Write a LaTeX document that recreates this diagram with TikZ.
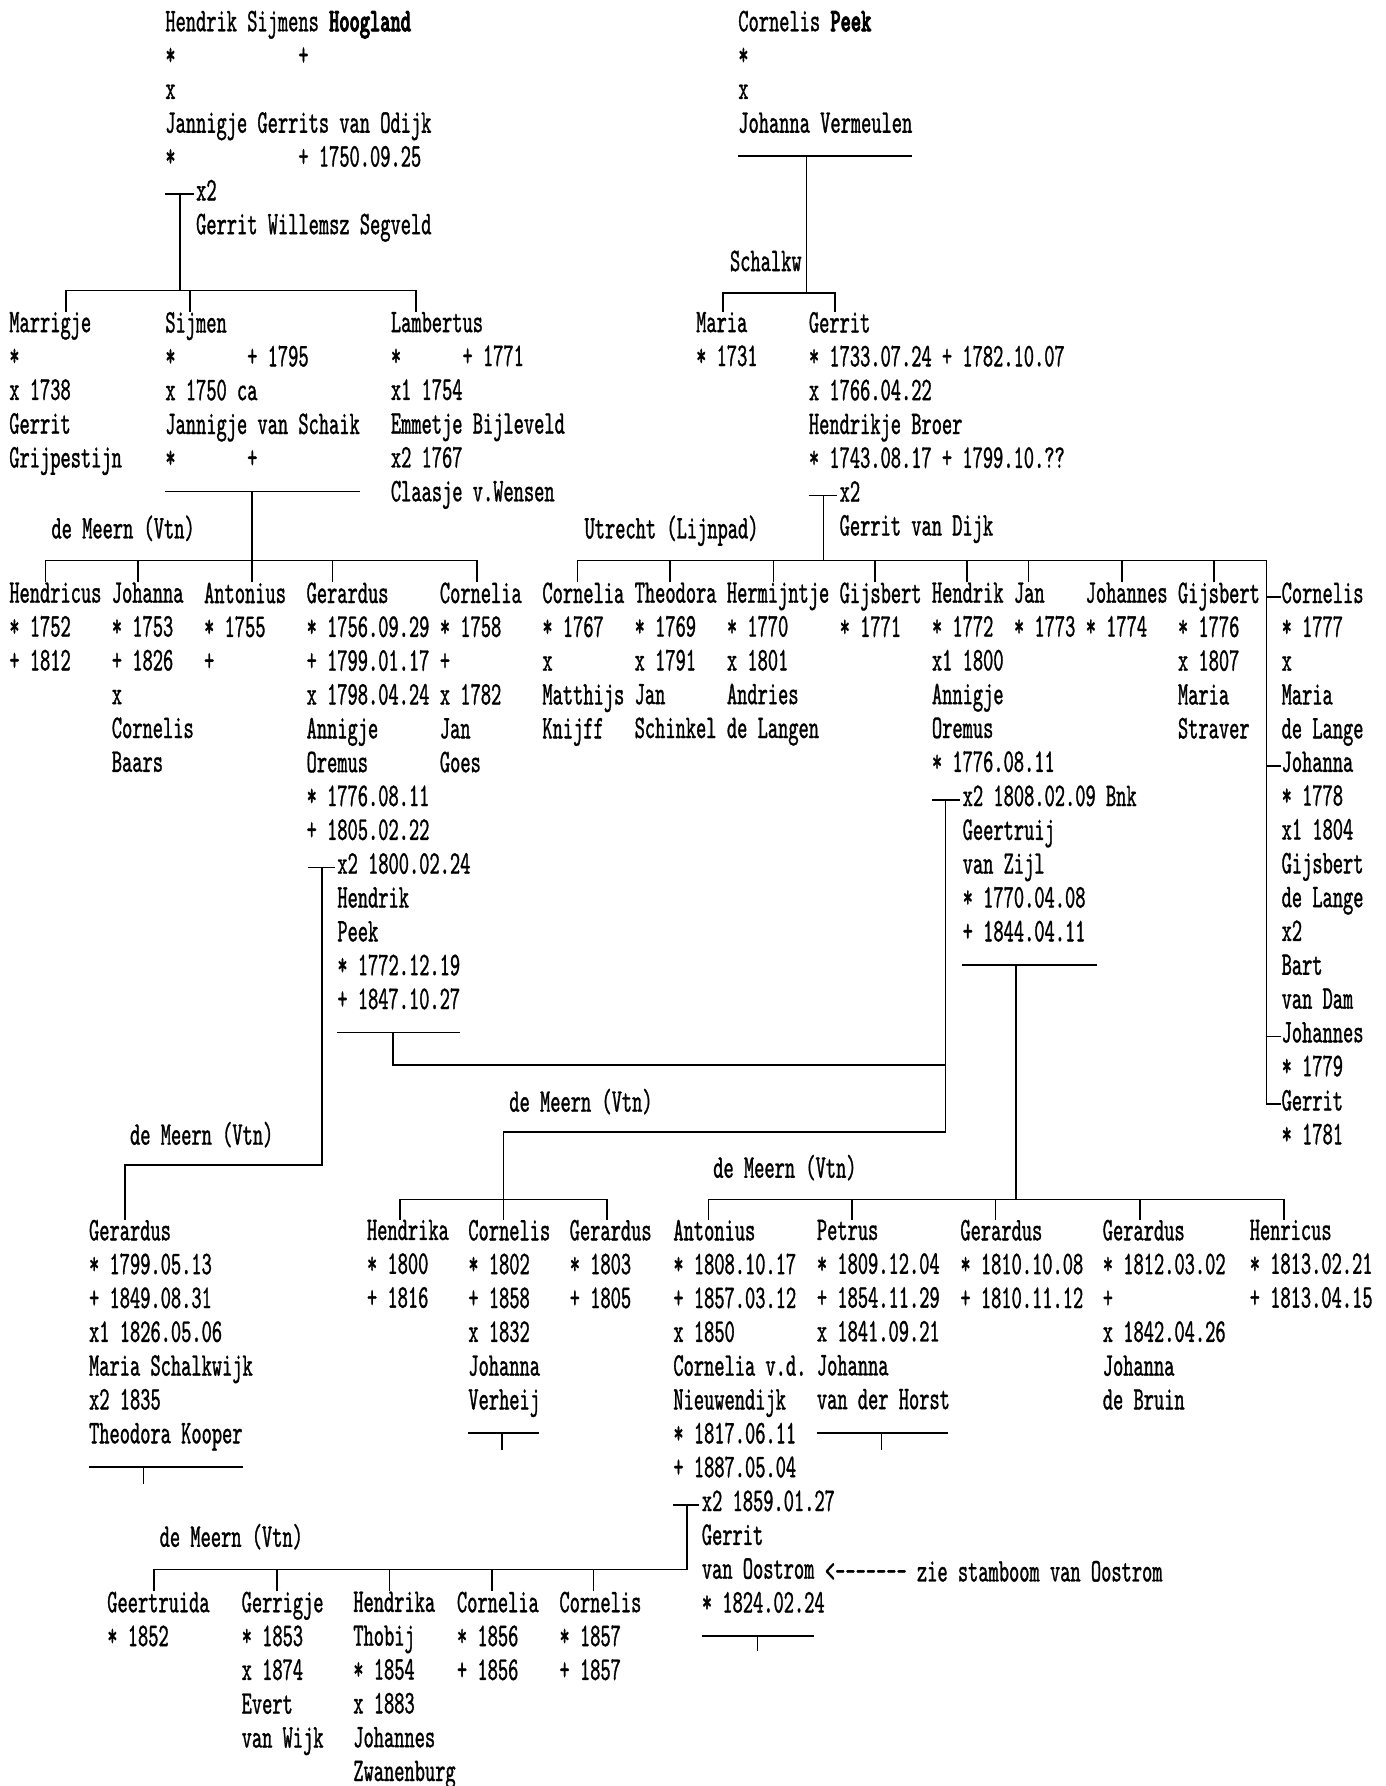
\documentclass[tikz,border=0pt]{standalone}
\usepackage{fontspec}
\setmonofont[FakeStretch=0.59,UprightFeatures={FakeBold=1},
  BoldFont=lmmonolt10-bold.otf,BoldFeatures={FakeBold=2.5}]{lmmono10-regular.otf}
\usepackage{tikz}
\newlength\chw
\newcommand\chart{\ttfamily\fontsize{29pt}{29.7pt}\selectfont\settowidth\chw{0}}
\newcommand\tabcol[2]{\makebox[#1\chw][l]{#2}}

\begin{document}
\begin{tikzpicture}[x=1pt, y=-1pt,
      pers/.style={anchor=north west, yshift=20.79pt, inner sep=0pt,
                   align=left, font=\chart,
                   execute at begin node=\strut, execute at end node=\strut},
      plc/.style={anchor=base west, inner sep=0pt, font=\chart},
      ln/.style={line width=1.5pt}
  ]
    \useasboundingbox (0,0) rectangle (1216,1568);
    % top couples
    \node[pers] (hoog) at (145,30) {Hendrik Sijmens \textbf{Hoogland}\\\tabcol{13}{*}+\\x\\Jannigje Gerrits van Odijk\\\tabcol{13}{*}+ 1750.09.25};
    \node[pers] (segv) at (172,178.5) {x2\\Gerrit Willemsz Segveld};
    \node[pers] (peek) at (648,30) {Cornelis \textbf{Peek}\\{}*\\x\\Johanna Vermeulen};
    \node[plc, anchor=base east] (schalkw) at (704,238) {Schalkw};
    % first generation
    \node[pers] (marrigje) at (8,294.5) {Marrigje\\{}*\\x 1738\\Gerrit\\Grijpestijn};
    \node[pers] (sijmen) at (145,294.5) {Sijmen\\\tabcol{8}{*}+ 1795\\x 1750 ca\\Jannigje van Schaik\\\tabcol{8}{*}+};
    \node[pers] (lambertus) at (343,294.5) {Lambertus\\\tabcol{7}{*}+ 1771\\x1 1754\\Emmetje Bijleveld\\x2 1767\\Claasje v.Wensen};
    \node[pers] (maria) at (611,294.5) {Maria\\{}* 1731};
    \node[pers] (gerrit) at (710,294.5) {Gerrit\\{}* 1733.07.24 + 1782.10.07\\x 1766.04.22\\Hendrikje Broer\\{}* 1743.08.17 + 1799.10.??};
    \node[pers] (dijk) at (737,443) {x2\\Gerrit van Dijk};
    \node[plc] (utrecht) at (513,472.7) {Utrecht (Lijnpad)};
    \node[plc] (meernA) at (45,472.7) {de Meern (Vtn)};
    % second generation
    \node[pers] (hendricus) at (8,532) {Hendricus\\{}* 1752\\+ 1812};
    \node[pers] (johanna) at (98,532) {Johanna\\{}* 1753\\+ 1826\\x\\Cornelis\\Baars};
    \node[pers] (antonius) at (179,532) {Antonius\\{}* 1755\\+};
    \node[pers] (gerardus) at (269,532) {Gerardus\\{}* 1756.09.29\\+ 1799.01.17\\x 1798.04.24\\Annigje\\Oremus\\{}* 1776.08.11\\+ 1805.02.22};
    \node[pers] (corneliaA) at (386,532) {Cornelia\\{}* 1758\\+\\x 1782\\Jan\\Goes};
    \node[pers] (corneliaB) at (476,532) {Cornelia\\{}* 1767\\x\\Matthijs\\Knijff};
    \node[pers] (theodora) at (557,532) {Theodora\\{}* 1769\\x 1791\\Jan\\Schinkel};
    \node[pers] (hermijntje) at (638,532) {Hermijntje\\{}* 1770\\x 1801\\Andries\\de Langen};
    \node[pers] (gijsbertA) at (737,532) {Gijsbert\\{}* 1771};
    \node[pers] (hendrik) at (818,532) {Hendrik\\{}* 1772\\x1 1800\\Annigje\\Oremus\\{}* 1776.08.11};
    \node[pers] (jan) at (890,532) {Jan\\{}* 1773};
    \node[pers] (johannes) at (953,532) {Johannes\\{}* 1774};
    \node[pers] (gijsbertB) at (1034,532) {Gijsbert\\{}* 1776\\x 1807\\Maria\\Straver};
    \node[pers] (cornelisC) at (1125,532) {Cornelis\\{}* 1777\\x\\Maria\\de Lange};
    \node[pers] (johannaB) at (1125,680.5) {Johanna\\{}* 1778\\x1 1804\\Gijsbert\\de Lange\\x2\\Bart\\van Dam};
    \node[pers] (johannesB) at (1125,918) {Johannes\\{}* 1779};
    \node[pers] (gerritB) at (1125,977.5) {Gerrit\\{}* 1781};
    \node[pers] (hpeek) at (296,769.6) {x2 1800.02.24\\Hendrik\\Peek\\{}* 1772.12.19\\+ 1847.10.27};
    \node[pers] (geertruij) at (845,710.2) {x2 1808.02.09 Bnk\\Geertruij\\van Zijl\\{}* 1770.04.08\\+ 1844.04.11};
    \node[plc] (meernB) at (447,976) {de Meern (Vtn)};
    \node[plc] (meernC) at (626,1034) {de Meern (Vtn)};
    \node[plc] (meernD) at (114,1005) {de Meern (Vtn)};
    % third generation
    \node[pers] (gerardusC) at (78,1091.5) {Gerardus\\{}* 1799.05.13\\+ 1849.08.31\\x1 1826.05.06\\Maria Schalkwijk\\x2 1835\\Theodora Kooper};
    \node[pers] (hendrika) at (322,1091.5) {Hendrika\\{}* 1800\\+ 1816};
    \node[pers] (cornelisD) at (411,1091.5) {Cornelis\\{}* 1802\\+ 1858\\x 1832\\Johanna\\Verheij};
    \node[pers] (gerardusD) at (500,1091.5) {Gerardus\\{}* 1803\\+ 1805};
    \node[pers] (antoniusB) at (591,1091.5) {Antonius\\{}* 1808.10.17\\+ 1857.03.12\\x 1850\\Cornelia v.d.\\Nieuwendijk\\{}* 1817.06.11\\+ 1887.05.04};
    \node[pers] (petrus) at (717,1091.5) {Petrus\\{}* 1809.12.04\\+ 1854.11.29\\x 1841.09.21\\Johanna\\van der Horst};
    \node[pers] (gerardusE) at (843,1091.5) {Gerardus\\{}* 1810.10.08\\+ 1810.11.12};
    \node[pers] (gerardusF) at (968,1091.5) {Gerardus\\{}* 1812.03.02\\+\\x 1842.04.26\\Johanna\\de Bruin};
    \node[pers] (henricus) at (1097,1091.5) {Henricus\\{}* 1813.02.21\\+ 1813.04.15};
    \node[pers] (oostrom) at (616,1329) {x2 1859.01.27\\Gerrit\\van Oostrom\\{}* 1824.02.24};
    \node[plc] (zie) at (724,1388.4) {<------- zie stamboom van Oostrom};
    \node[plc] (meernE) at (140,1358) {de Meern (Vtn)};
    % fourth generation
    \node[pers] (geertruida) at (94,1418) {Geertruida\\{}* 1852};
    \node[pers] (gerrigje) at (212,1418) {Gerrigje\\{}* 1853\\x 1874\\Evert\\van Wijk};
    \node[pers] (hendrikaB) at (310,1418) {Hendrika\\Thobij\\{}* 1854\\x 1883\\Johannes\\Zwanenburg};
    \node[pers] (corneliaE) at (401,1418) {Cornelia\\{}* 1856\\+ 1856};
    \node[pers] (cornelisE) at (491,1418) {Cornelis\\{}* 1857\\+ 1857};
    % junctions
    \coordinate (jHoog) at (158,255);
    \coordinate (jPeek) at (708,257);
    \coordinate (jSijmen) at (221,492);
    \coordinate (jGerrit) at (723,492);
    \coordinate (jRight) at (1112,492);
    \coordinate (jGerardusC) at (110,1023);
    \coordinate (jHpeek) at (830,935);
    \coordinate (jCornelisD) at (442,994);
    \coordinate (jHendrika) at (442,1053);
    \coordinate (jGeertruij) at (892,1053);
    \coordinate (jOostrom) at (603,1378);
    % Hoogland
    \draw[ln] ([xshift=-27pt,yshift=-12.8pt]segv.north west) -- ([xshift=-2pt,yshift=-12.8pt]segv.north west);
    \draw[ln] ([xshift=-14pt,yshift=-12.8pt]segv.north west) -- (jHoog);
    \foreach \n/\d in {marrigje/50, sijmen/22, lambertus/22}
      \draw[ln] ([xshift=\d pt]\n.north west) |- (jHoog);
    % Peek
    \draw[ln] ([yshift=-11.6pt]peek.south west) -- ([yshift=-11.6pt]peek.south east);
    \draw[ln] ([xshift=60pt,yshift=-11.6pt]peek.south west) -- (jPeek);
    \foreach \n/\d in {maria/24, gerrit/23}
      \draw[ln] ([xshift=\d pt]\n.north west) |- (jPeek);
    % Sijmen
    \draw[ln] ([yshift=-11.6pt]sijmen.south west) -- ([yshift=-11.6pt]sijmen.south east);
    \draw[ln] ([xshift=76pt,yshift=-11.6pt]sijmen.south west) -- (jSijmen);
    \foreach \n/\d in {hendricus/32, johanna/23, antonius/42, gerardus/23, corneliaA/33}
      \draw[ln] ([xshift=\d pt]\n.north west) |- (jSijmen);
    % Gerrit
    \draw[ln] ([xshift=-27pt,yshift=-12.8pt]dijk.north west) -- ([xshift=-2pt,yshift=-12.8pt]dijk.north west);
    \draw[ln] ([xshift=-14pt,yshift=-12.8pt]dijk.north west) -- (jGerrit);
    \foreach \n/\d in {corneliaB/31, theodora/31, hermijntje/41, gijsbertA/31, hendrik/31, jan/13, johannes/32, gijsbertB/32}
      \draw[ln] ([xshift=\d pt]\n.north west) |- (jGerrit);
    \draw[ln] (jGerrit) -- (jRight) |- ([yshift=-12.8pt]gerritB.north west);
    \foreach \n in {cornelisC, johannaB, johannesB}
      \draw[ln] ([yshift=-12.8pt]\n.north west) -| (jRight);
    % Gerardus x2 Hendrik Peek
    \draw[ln] ([xshift=-26pt,yshift=-12.8pt]hpeek.north west) -- ([xshift=-2pt,yshift=-12.8pt]hpeek.north west);
    \draw[ln] ([xshift=-13pt,yshift=-12.8pt]hpeek.north west) |- (jGerardusC) -- ([xshift=32pt]gerardusC.north west);
    \draw[ln] ([yshift=-11.6pt]hpeek.south west) -- ++(108,0);
    \draw[ln] ([xshift=49pt,yshift=-11.6pt]hpeek.south west) |- (jHpeek);
    % Hendrik x2 Geertruij
    \draw[ln] ([xshift=-27pt,yshift=-12.8pt]geertruij.north west) -- ([xshift=-2pt,yshift=-12.8pt]geertruij.north west);
    \draw[ln] ([xshift=-15pt,yshift=-12.8pt]geertruij.north west) |- (jCornelisD) -- ([xshift=31pt]cornelisD.north west);
    \foreach \n/\d in {hendrika/29, gerardusD/33}
      \draw[ln] ([xshift=\d pt]\n.north west) |- (jHendrika);
    \draw[ln] ([yshift=-11.6pt]geertruij.south west) -- ++(118,0);
    \draw[ln] ([xshift=47pt,yshift=-11.6pt]geertruij.south west) -- (jGeertruij);
    \foreach \n/\d in {antoniusB/31, petrus/31, gerardusE/31, gerardusF/33, henricus/30}
      \draw[ln] ([xshift=\d pt]\n.north west) |- (jGeertruij);
    % couples of the third generation
    \draw[ln] ([yshift=-11.6pt]gerardusC.south west) -- ++(135,0);
    \draw[ln] ([xshift=48pt,yshift=-11.6pt]gerardusC.south west) -- ++(0,15);
    \draw[ln] ([yshift=-11.6pt]cornelisD.south west) -- ++(62,0);
    \draw[ln] ([xshift=30pt,yshift=-11.6pt]cornelisD.south west) -- ++(0,15);
    \draw[ln] ([yshift=-11.6pt]petrus.south west) -- ++(115,0);
    \draw[ln] ([xshift=57pt,yshift=-11.6pt]petrus.south west) -- ++(0,15);
    \draw[ln] ([yshift=-11.6pt]oostrom.south west) -- ++(99,0);
    \draw[ln] ([xshift=49pt,yshift=-11.6pt]oostrom.south west) -- ++(0,13);
    % Antonius x2 Gerrit van Oostrom
    \draw[ln] ([xshift=-25pt,yshift=-12.8pt]oostrom.north west) -- ([xshift=-2pt,yshift=-12.8pt]oostrom.north west);
    \draw[ln] ([xshift=-13pt,yshift=-12.8pt]oostrom.north west) -- (jOostrom);
    \foreach \n/\d in {geertruida/41, gerrigje/31, hendrikaB/32, corneliaE/31, cornelisE/30}
      \draw[ln] ([xshift=\d pt]\n.north west) |- (jOostrom);
  \end{tikzpicture}
\end{document}
